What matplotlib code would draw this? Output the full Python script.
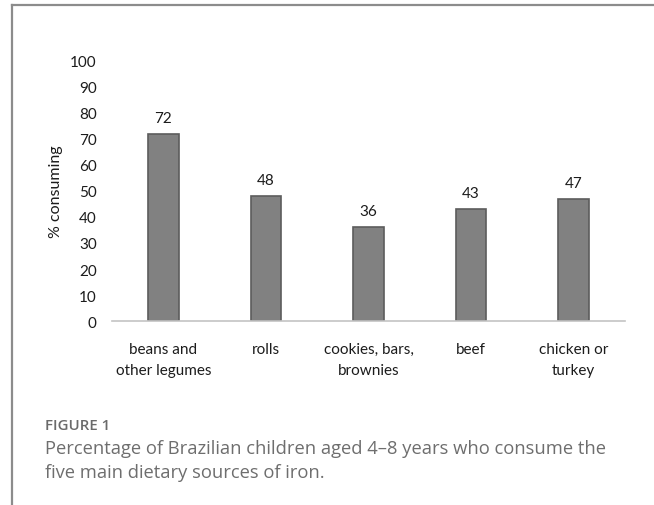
import numpy as np
import matplotlib
matplotlib.use("Agg")
import matplotlib.pyplot as plt
from matplotlib.lines import Line2D

# data
foods = ["beans and\nother legumes", "rolls", "cookies, bars,\nbrownies", "beef", "chicken or\nturkey"]
pct = [72, 48, 36, 43, 47]
yticks = [0, 10, 20, 30, 40, 50, 60, 70, 80, 90, 100]

W, H = 654, 506
fig = plt.figure(figsize=(W/100, H/100), dpi=100)
fig.patch.set_facecolor("white")

# frame lines of the page panel (top and left)
fig.add_artist(Line2D([12/W, 1], [1-6/H, 1-6/H], color="#8c8c8c", lw=1.6))
fig.add_artist(Line2D([12/W, 12/W], [0, 1-6/H], color="#8c8c8c", lw=1.6))

txt = dict(family="Lato", color="#1c1c1c")

ax = fig.add_axes([112/W, 1-322/H, (625-112)/W, (322-62)/H])
x = np.arange(len(foods))
ax.bar(x, pct, width=0.3, color="#818181", edgecolor="#5c5c5c", linewidth=1.2)
for xi, v in zip(x, pct):
    ax.text(xi, v + 3.5, str(v), ha="center", va="bottom", fontsize=11, **txt)

ax.set_xlim(-0.5, 4.5)
ax.set_ylim(0, 100)
ax.set_yticks(yticks)
ax.set_xticks(x)
ax.set_xticklabels(foods, fontsize=11, linespacing=1.65, **txt)
for lab in ax.get_yticklabels():
    lab.set_fontsize(11)
    lab.set_family("Lato")
    lab.set_color("#1c1c1c")
ax.tick_params(length=0)
ax.tick_params(axis="y", pad=11)
ax.tick_params(axis="x", pad=15)
for s in ["top", "right", "left"]:
    ax.spines[s].set_visible(False)
ax.spines["bottom"].set_color("#c4c4c4")
ax.spines["bottom"].set_linewidth(1.2)
ax.set_ylabel("% consuming", fontsize=11.5, labelpad=5, **txt)

fig.text(45/W, 1-426/H, "FIGURE 1", fontsize=10.8, family="Open Sans", weight="semibold",
         color="#6a6a6a", va="center")
fig.text(45/W, 1-449/H, "Percentage of Brazilian children aged 4\u20138 years who consume the",
         fontsize=13.2, family="Open Sans", color="#6e6e6e", va="center")
fig.text(45/W, 1-473/H, "five main dietary sources of iron.",
         fontsize=13.2, family="Open Sans", color="#6e6e6e", va="center")

fig.savefig("out.png", dpi=100)
